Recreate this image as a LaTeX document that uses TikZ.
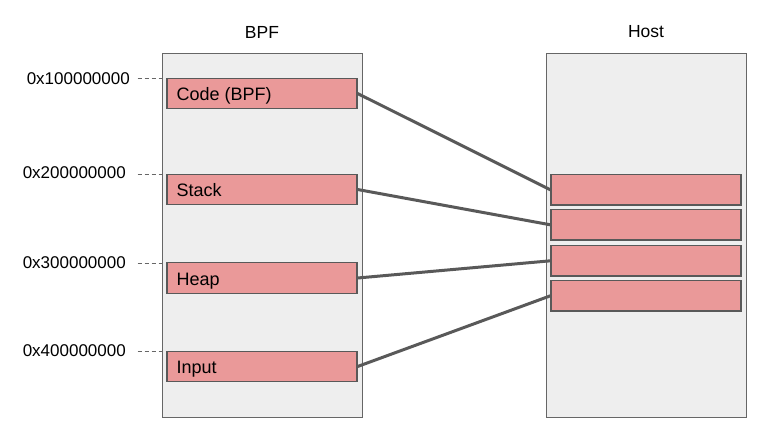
\documentclass[tikz,border=0pt]{standalone}
\usepackage{fontspec}
\setmainfont{Liberation Sans}
\definecolor{panelfill}{HTML}{EEEEEE}
\definecolor{panelline}{HTML}{666666}
\definecolor{boxfill}{HTML}{EA9999}
\definecolor{boxline}{HTML}{595959}
\definecolor{conn}{HTML}{595959}
\begin{document}
\begin{tikzpicture}[x=1pt,y=-1pt,
  panel/.style={draw=panelline,fill=panelfill,line width=1pt},
  region/.style={draw=boxline,fill=boxfill,line width=1.2pt,minimum width=190pt,minimum height=30.5pt,inner sep=0pt},
  lbl/.style={font=\fontsize{17.5}{20}\selectfont,inner sep=0pt},
  inlbl/.style={font=\fontsize{18}{20}\selectfont,inner sep=0pt,anchor=base west},
  addr/.style={font=\fontsize{17}{20}\selectfont,inner sep=0pt,anchor=east},
  guide/.style={draw=panelline,line width=0.8pt,dash pattern=on 4pt off 3pt},
  link/.style={draw=conn,line width=3pt}]
\useasboundingbox (0,0) rectangle (761,432);
% panels
\path[panel] (162,53) rectangle (362,417);
\path[panel] (546,53) rectangle (746,417);
\node[lbl] (tbpf) at (262,32) {BPF};
\node[lbl] (thost) at (646,32) {Host};
% BPF regions
\node[region] (code) at (262,93.5) {};
\node[region] (stack) at (262,189.5) {};
\node[region] (heap) at (262,278) {};
\node[region] (input) at (262,366.5) {};
\node[inlbl] at ([xshift=10pt,yshift=-7.3pt]code.west) {Code (BPF)};
\node[inlbl] at ([xshift=10pt,yshift=-7.3pt]stack.west) {Stack};
\node[inlbl] at ([xshift=10pt,yshift=-7.3pt]heap.west) {Heap};
\node[inlbl] at ([xshift=10pt,yshift=-7.3pt]input.west) {Input};
% Host regions
\node[region] (h1) at (646,189.8) {};
\node[region] (h2) at (646,224.8) {};
\node[region] (h3) at (646,260.8) {};
\node[region] (h4) at (646,295.8) {};
% addresses
\node[addr] (a1) at (130,78.5) {0x100000000};
\node[addr] (a2) at (126,173) {0x200000000};
\node[addr] (a3) at (126,263) {0x300000000};
\node[addr] (a4) at (126,351) {0x400000000};
\coordinate (e1) at (162,78);
\coordinate (e2) at (162,174);
\coordinate (e3) at (162,263);
\coordinate (e4) at (162,351);
\draw[guide] (137.5,78) -- (e1);
\draw[guide] (137.5,174) -- (e2);
\draw[guide] (137.5,263) -- (e3);
\draw[guide] (137.5,351) -- (e4);
% connectors
\draw[link] (code.east) -- (h1.west);
\draw[link] (stack.east) -- (h2.west);
\draw[link] (heap.east) -- (h3.west);
\draw[link] (input.east) -- (h4.west);
\end{tikzpicture}
\end{document}
